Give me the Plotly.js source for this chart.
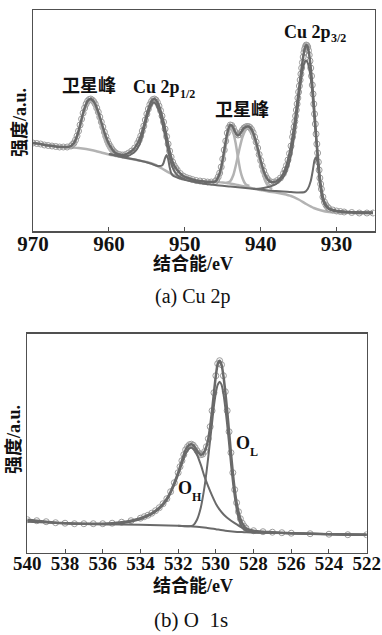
<!DOCTYPE html>
<html>
<head>
<meta charset="utf-8">
<script src="https://cdn.plot.ly/plotly-3.0.1.min.js"></script>
<style>
html,body{margin:0;padding:0;background:#fff;}
#chart{width:382px;height:635px;}
</style>
</head>
<body>
<div id="chart"></div>
<script>
// ---------- (a) Cu 2p : measured points (binding energy eV, intensity a.u.) ----------
const cuEnergy = [970,969.5,969,968.5,968,967.5,967,966.5,966,965.5,965,964.8,964.6,964.4,964.2,964,963.8,963.6,963.4,963.2,963,962.8,962.6,962.4,962.2,962,961.8,961.6,961.4,961.2,961,960.8,960.6,960.4,960.2,960,959.8,959.6,959.4,959.2,959,958.6,958.2,957.8,957.4,957,956.6,956.2,956,955.8,955.6,955.4,955.2,955,954.8,954.6,954.4,954.2,954,953.8,953.6,953.4,953.2,953,952.8,952.6,952.4,952.2,952,951.8,951.6,951.4,951.2,951,950.6,950.2,949.8,949.4,949,948.5,948,947.5,947,946.5,946,945.8,945.6,945.4,945.2,945,944.8,944.6,944.4,944.2,944,943.8,943.6,943.4,943.2,943,942.8,942.6,942.4,942.2,942,941.8,941.6,941.4,941.2,941,940.8,940.6,940.4,940.2,940,939.8,939.6,939.4,939.2,939,938.6,938.2,937.8,937.4,937,936.8,936.6,936.4,936.2,936,935.8,935.7,935.6,935.5,935.4,935.3,935.2,935.1,935,934.9,934.8,934.7,934.6,934.5,934.4,934.3,934.2,934.1,934,933.9,933.8,933.7,933.6,933.5,933.4,933.3,933.2,933.1,933,932.9,932.8,932.7,932.6,932.5,932.4,932.3,932.2,932.1,932,931.8,931.6,931.4,931.2,931,930.5,930,929.5,929,928,927,926,925.2];
const cuCounts = [88,87.5,87,86,85.5,85,84.5,84,84,84,85,86.5,88,91,95,100,106,112,118,123,127,130,131.5,132,131,129.5,127,123,119,114,109,104,99,94.5,90.5,87,84.5,82,80,78.5,77.5,76.5,76,76.5,78,80,83,88,91,95,100,105,111,117,122,126.5,129.5,131.5,132,131,128.5,125,120.5,115,109,102,94.5,87,80,74,69,65.5,63,61,57.5,55,53.5,52.5,51.5,50.5,50,49.5,49,49,49.5,51,54,58,64,72,81,90,98,103.5,106,105.5,103,99.5,97,96,96.5,98.5,101,103,104,104.5,104.5,103.5,101.5,98.5,94,89,83,76.5,70.5,65,60,56,53,51,49,49,50.5,53,57.5,61,65.5,71,77.5,85,94,99,104,109.5,115,121,127,133,139,145,151,157,163,168.5,174,178.5,182,184.5,186,185.5,184,180.5,176,170,163,155,146,137,127,117,107,97,87,78,69,61,53,47,42,34,29,26,24,22.5,21,20,19.5,19,18.5,18,18,18];

// fitted components, (a)
const cuBgE = [970,968,966,965,964,963,962,961,960,959,958,957,956,955,954,953,952,951,950,949,948,947,946,945,944,943,942,941,940,939,938,937,936,935,934,933,932,931,930,928,925.2];
const cuBgI = [88,86,84,83.5,83,82,80.5,78.5,76.5,75,73.5,72,70.5,69,66.5,62.5,58,54.5,52,50.5,50,49.5,49,48.5,47.5,46,44.5,42.5,41,39.5,38.5,37,35,31.5,27,23,20.5,19,18.5,18,18];

const sat1E = [965.5,965,964.6,964.2,963.8,963.4,963,962.6,962.4,962.2,961.8,961.4,961,960.6,960.2,959.8,959.4,959,958.5];
const sat1I = [84,84.5,87,94,104,116,125,129.5,130,129,124,115,104,93,85,80,77.5,76,75];
const sat2E = [946,945.6,945.2,944.8,944.4,944.1,943.9,943.6,943.3,943,942.7,942.4,942,941.5];
const sat2I = [49,52,60,76,94,103,104,98,88,74,61,53,47,45];
const sat3E = [944.5,944,943.6,943.2,942.8,942.4,942,941.7,941.4,941,940.6,940.2,939.8,939.4,939,938.5];
const sat3I = [48,50,56,68,82,94,101,103.5,102,96,86,73,60,50,45,42];

const cu12E = [960,959,958,957.5,957,956.5,956,955.6,955.2,954.8,954.4,954.1,953.8,953.4,953,952.6,952.2,951.8,951.4,951,950.5,950];
const cu12I = [77,75.5,74.5,75,77,80,86,95,107,118,126,128.5,127,120,109,95,80,68,60,56,53.5,52];
const cu12bE = [960,958,956,954.5,953.5,953,952.8,952.6,952.4,952.2,952,951.8,951.5,951,950.5];
const cu12bI = [77,73.5,70.5,67.5,65,65.5,68,73,76,72,64,58,55,53.5,52];

const cu32E = [941,940,939,938,937.5,937,936.5,936,935.6,935.2,934.8,934.5,934.2,934,933.8,933.5,933.2,932.9,932.6,932.3,932,931.7,931.4,931,930,928,925.2];
const cu32I = [42,42.5,44,47,50,54,62,76,94,118,144,160,169,170.5,168,158,138,110,82,56,40,30,25,22,20,19,18.5];
const cu32bE = [950.5,949,948,946,944,942,940,938,936,935,934.2,933.8,933.4,933.1,932.9,932.7,932.5,932.3,932.1,931.9,931.6,931.2,930.5,930,928,925.2];
const cu32bI = [52,49.5,48,46,44.5,43,41.5,40,39,38.5,39,42,50,62,71,74,68,54,42,33,27,23,21,20,19,18.5];

// ---------- (b) O 1s ----------
const oEnergy = [540,539.5,539,538.5,538,537.5,537,536.5,536,535.5,535,534.5,534,533.8,533.6,533.4,533.2,533,532.8,532.6,532.4,532.2,532,531.9,531.8,531.7,531.6,531.5,531.4,531.3,531.2,531.1,531,530.9,530.8,530.7,530.6,530.5,530.4,530.3,530.2,530.1,530,529.9,529.8,529.7,529.6,529.5,529.4,529.3,529.2,529.1,529,528.9,528.8,528.7,528.6,528.5,528.4,528,527.5,527,526.5,526,525,524,523,522];
const oCounts = [33,32,31,30,29.5,29,29,29,29,29.5,30.5,32,34.5,36,37.5,39.5,42,45,49,54,61,70,80,86,92,98,103,106,108,108.5,107.5,105,102,99.5,98,98.5,101,106,114,126,142,160,177,189,192,188,177,161,142,121,100,80,63,50,41,34,29.5,26.5,24.5,22,21,20.5,20,19.5,19,18.5,18,18];

const ohE = [540,538,536,535,534,533.5,533,532.6,532.2,532,531.8,531.6,531.4,531.3,531.2,531,530.8,530.6,530.4,530.2,530,529.8,529.6,529.4,529,528.6,528.2,527.8,527,525,522];
const ohI = [32,29.5,28.5,29.5,33.5,37.5,44,52.5,68,78,89,99,104.5,105,104,98,88,76,66,57,49,43,38.5,35,29.5,25,22.5,21,20,19,18];
const olE = [532,531.4,531.2,531,530.8,530.6,530.5,530.4,530.3,530.2,530.1,530,529.9,529.8,529.7,529.6,529.5,529.4,529.3,529.2,529.1,529,528.9,528.8,528.7,528.6,528.4,528,527,525,522];
const olI = [27,26.5,27.5,33,45,66,80,96,113,130,147,160,168,171,168,159,145,128,109,89,71,56,44,35,29,25,22,20.5,20,19,18];
const oBgE = [540,538,536,534,533,532,531.5,531,530.5,530,529.5,529,528.5,528,526,524,522];
const oBgI = [31,29.5,28.5,28,27.5,27,26.5,26,25,23.5,22,21,20.5,20,19.5,18.5,18];

// tick labels
const cuTicks = [970,960,950,940,930];
const oTicks = [540,538,536,534,532,530,528,526,524,522];

const DARK = '#6a6a6a', LIGHT = '#b3b3b3', PTS = '#9c9c9c', FRAME = '#505050';
function line(x,y,color,w,xa,ya){return {x:x,y:y,type:'scatter',mode:'lines',line:{color:color,width:w,shape:'spline',smoothing:0.6},xaxis:xa,yaxis:ya,hoverinfo:'skip',showlegend:false};}
function pts(x,y,xa,ya){return {x:x,y:y,type:'scatter',mode:'markers',marker:{symbol:'circle-open',size:6,color:PTS,line:{width:1,color:PTS}},xaxis:xa,yaxis:ya,showlegend:false};}

const traces = [
  line(cuBgE,cuBgI,LIGHT,2.5,'x','y'),
  pts(cuEnergy,cuCounts,'x','y'),
  line(sat1E,sat1I,LIGHT,2.5,'x','y'),
  line(sat2E,sat2I,LIGHT,2.5,'x','y'),
  line(sat3E,sat3I,LIGHT,2.5,'x','y'),
  line(cu12bE,cu12bI,DARK,2,'x','y'),
  line(cu12E,cu12I,DARK,2,'x','y'),
  line(cu32bE,cu32bI,DARK,2,'x','y'),
  line(cu32E,cu32I,DARK,2,'x','y'),
  line(cuEnergy,cuCounts,DARK,2.5,'x','y'),

  pts(oEnergy,oCounts,'x2','y2'),
  line(oBgE,oBgI,DARK,2,'x2','y2'),
  line(ohE,ohI,DARK,2,'x2','y2'),
  line(olE,olI,DARK,2,'x2','y2'),
  line(oEnergy,oCounts,DARK,2.5,'x2','y2')
];

const SERIF = 'Liberation Serif, Noto Sans CJK SC, serif';
function xax(dom,rng,ticks,fs){return {domain:dom,range:rng,tickvals:ticks,ticktext:ticks.map(String),ticks:'inside',ticklen:4,tickwidth:1,tickcolor:FRAME,showline:true,mirror:true,linecolor:FRAME,linewidth:1.5,showgrid:false,zeroline:false,ticklabeloverflow:'allow',ticklabelstandoff:-7,tickfont:{family:SERIF,size:fs,weight:'bold',color:'#111'},fixedrange:true};}
function yax(dom,rng){return {domain:dom,range:rng,showticklabels:false,ticks:'',showline:true,mirror:true,linecolor:FRAME,linewidth:1.5,showgrid:false,zeroline:false,fixedrange:true};}

const xa1 = xax([0.0864,0.9804],[970,925],cuTicks,21); xa1.anchor='y';
const ya1 = yax([0.6362,0.98425],[0,221]); ya1.anchor='x';
const xa2 = xax([0.0715,0.9599],[540,522],oTicks,19); xa2.anchor='y2';
const ya2 = yax([0.1296,0.47402],[0,218.7]); ya2.anchor='x2';

const titleFont = {family:SERIF,size:18,weight:'bold',color:'#111'};
const lab = {family:SERIF,size:18,weight:'bold',color:'#111'};
const sub = {family:SERIF,size:12,weight:'bold',color:'#111'};
function P(px,py){return {x:px/382,y:1-py/635};}
function paperText(px,py,text,font,angle,anchor){const p=P(px,py);return {xref:'paper',yref:'paper',x:p.x,y:p.y,text:text,showarrow:false,font:font,xanchor:anchor||'center',yanchor:'middle',textangle:angle||0};}
const annotations = [
  paperText(89,86,'卫星峰',lab),
  paperText(131,87,'Cu 2p',lab,0,'left'),
  paperText(178,94,'1/2',sub,0,'left'),
  paperText(242,110,'卫星峰',lab),
  paperText(282,32,'Cu 2p',lab,0,'left'),
  paperText(329,38,'3/2',sub,0,'left'),
  paperText(176,488,'O',lab,0,'left'),
  paperText(190,497,'H',sub,0,'left'),
  paperText(234,443,'O',lab,0,'left'),
  paperText(248,452,'L',sub,0,'left'),
  paperText(193,263,'结合能/eV',titleFont),
  paperText(20,123,'强度/a.u.',titleFont,-90),
  paperText(193,585,'结合能/eV',titleFont),
  paperText(14,440,'强度/a.u.',titleFont,-90),
  paperText(193,297,'(a) Cu 2p',{family:SERIF,size:20,color:'#111'}),
  paperText(191,620,'(b) O  1s',{family:SERIF,size:21,color:'#111'})
];

const layout = {
  width:382,height:635,margin:{l:0,r:0,t:0,b:0},
  paper_bgcolor:'#fff',plot_bgcolor:'#fff',showlegend:false,
  xaxis:xa1,yaxis:ya1,xaxis2:xa2,yaxis2:ya2,
  annotations:annotations
};
Plotly.newPlot('chart',traces,layout,{staticPlot:true,displayModeBar:false});
</script>
</body>
</html>
